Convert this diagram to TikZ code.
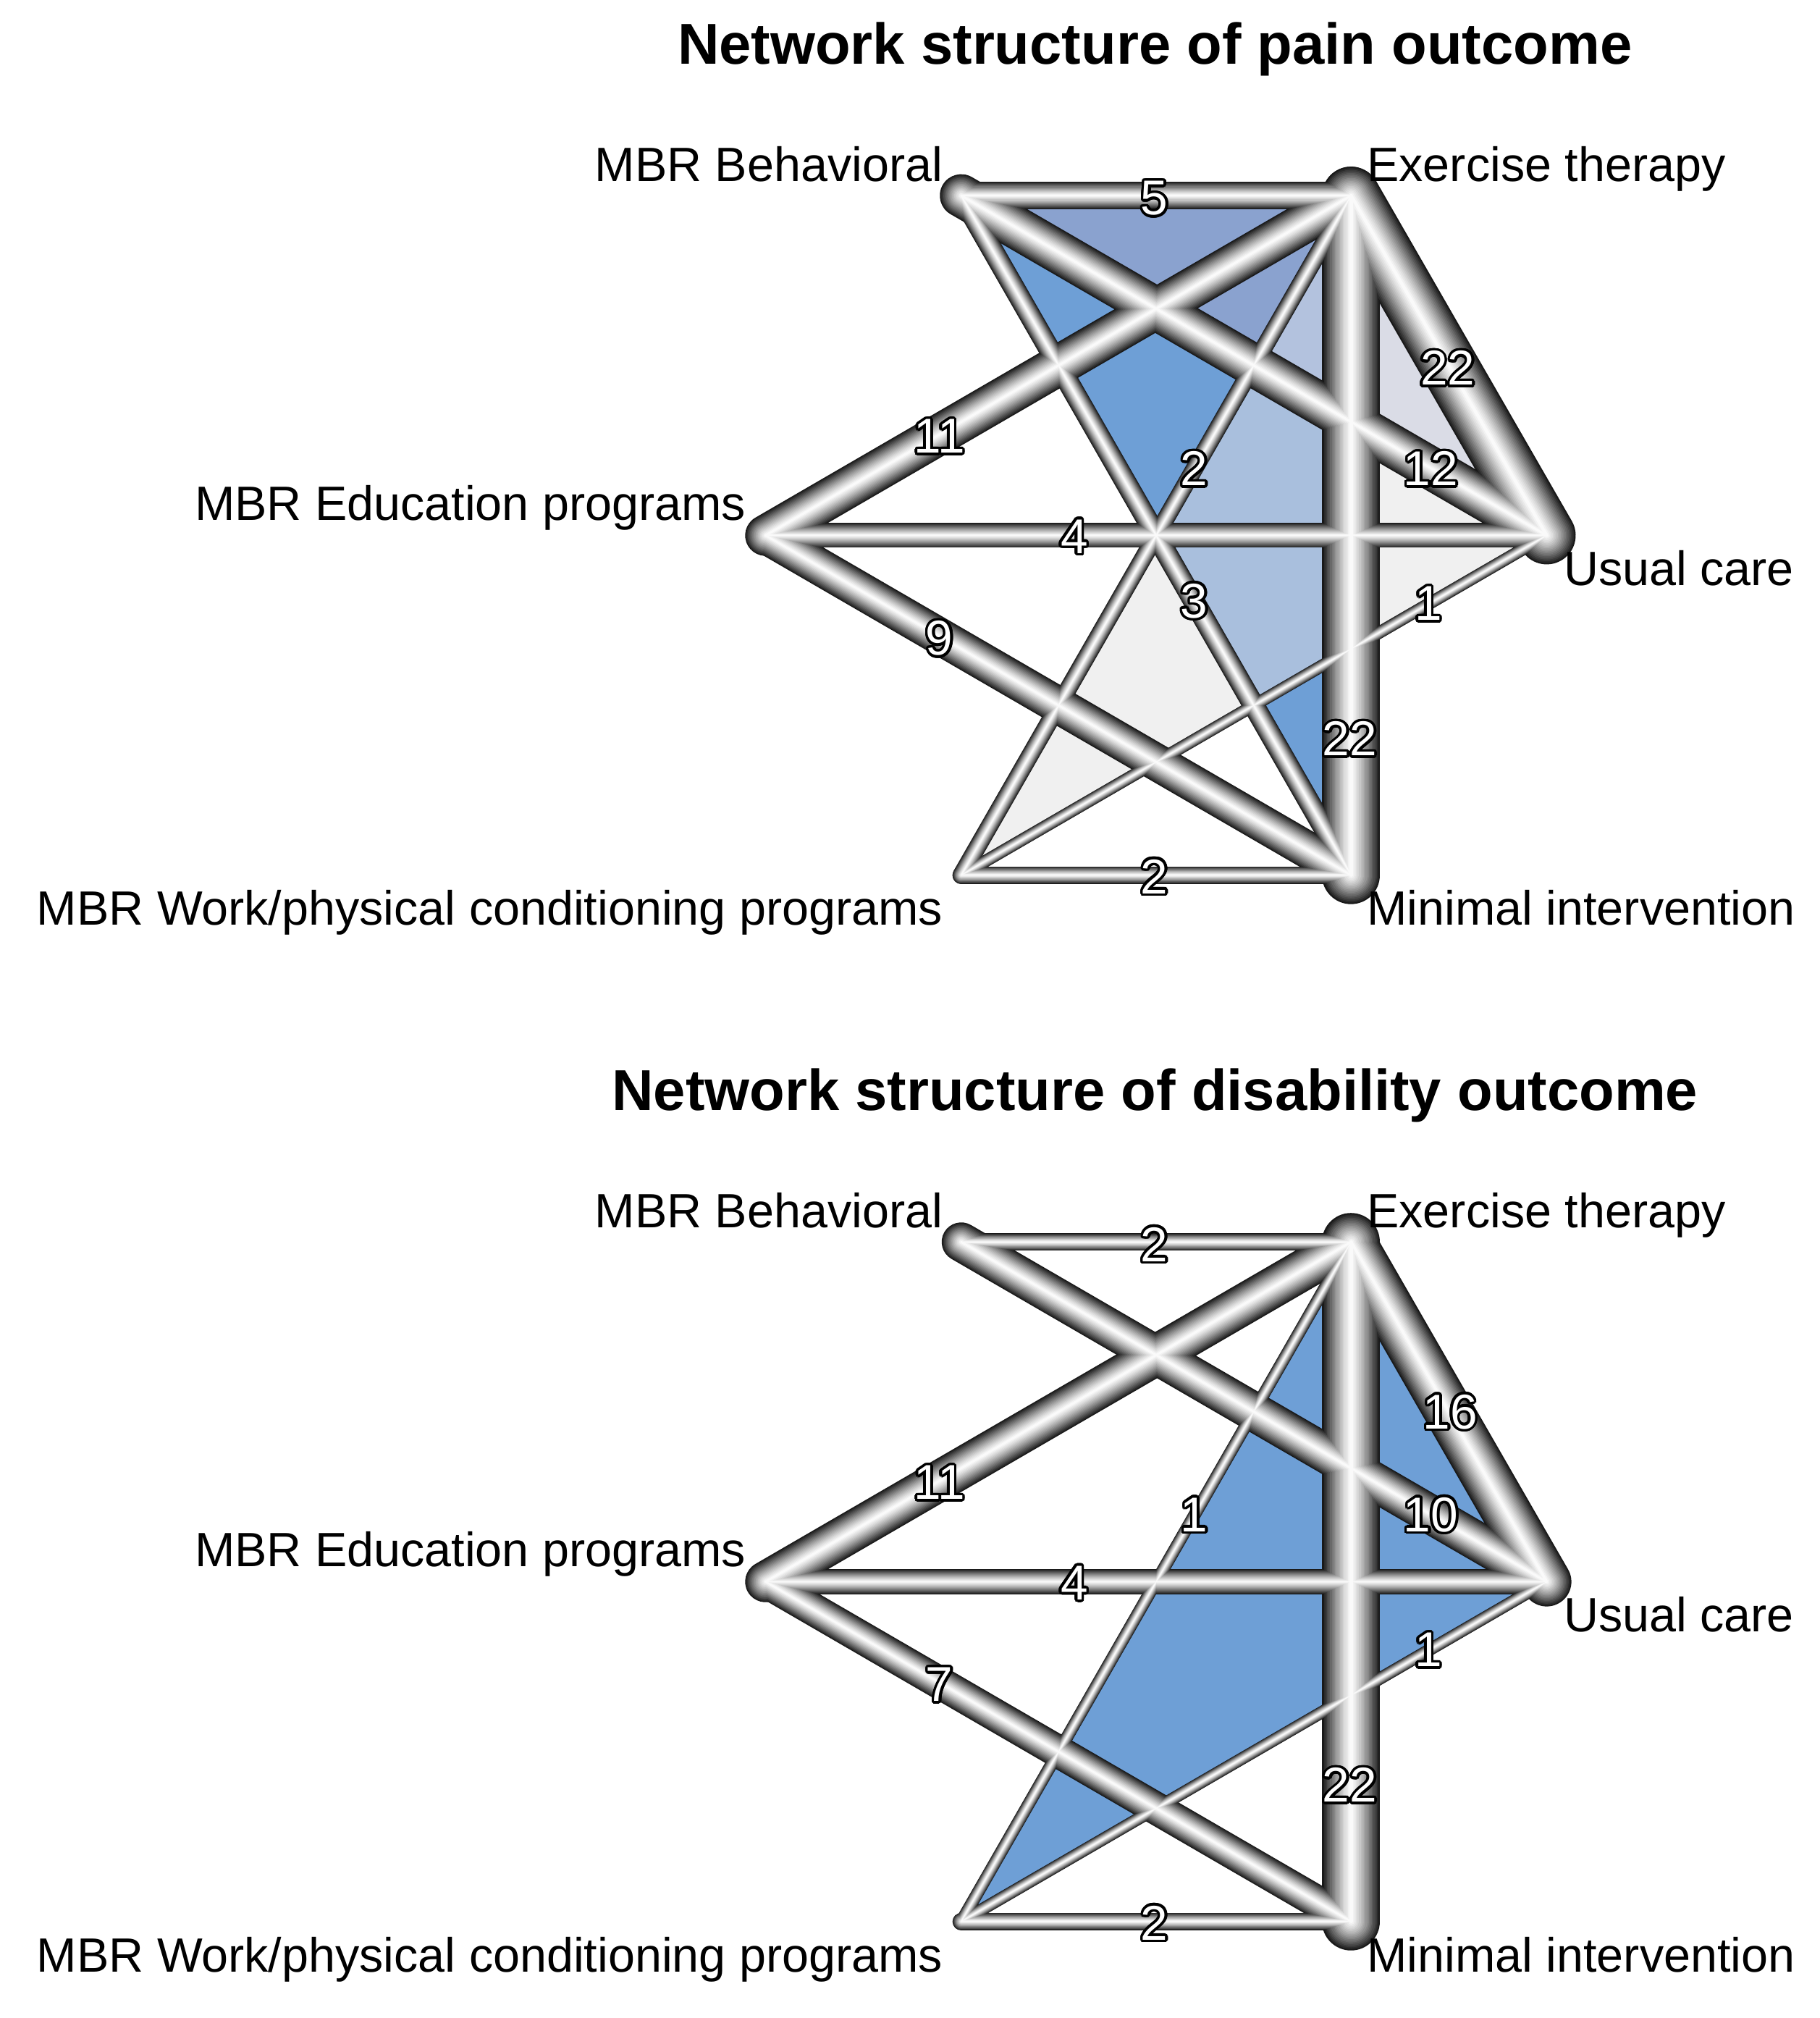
\documentclass[tikz,border=0pt]{standalone}
\usepackage{fontspec}
\setmainfont{Liberation Sans}
\usepackage{contour}
\contourlength{1pt}
\contournumber{24}
\definecolor{cBlue}{HTML}{6E9FD6}
\definecolor{cGrey}{HTML}{F0F0F0}
\definecolor{cBG}{HTML}{A9BFDD}
\definecolor{cLG}{HTML}{DADCE6}
\definecolor{cLav}{HTML}{8AA2CF}
\definecolor{cTri}{HTML}{B3C2DE}
\tikzset{
  lab/.style={font=\fontsize{18.7}{22}\selectfont, inner sep=0pt},
  num/.style={font=\fontsize{19}{21}\selectfont, text=white, inner sep=0pt},
  ttl/.style={font=\fontsize{22.4}{26}\selectfont\bfseries, inner sep=0pt},
}
\begin{document}
\begin{tikzpicture}[x=0.5pt,y=-0.5pt]
\useasboundingbox (0,0) rectangle (1414,1568);
% nodes of the pain network
\coordinate (B1) at (747,152);
\coordinate (E1) at (1050,152);
\coordinate (U1) at (1202,416);
\coordinate (M1) at (1050,680);
\coordinate (W1) at (747,680);
\coordinate (D1) at (595,416);
% nodes of the disability network
\coordinate (B2) at (747,965);
\coordinate (E2) at (1050,965);
\coordinate (U2) at (1202,1229);
\coordinate (M2) at (1050,1493);
\coordinate (W2) at (747,1493);
\coordinate (D2) at (595,1229);

% multi-arm polygons, pain network
\fill[cBlue] (B1) -- (E1) -- (M1) -- cycle;
\fill[cGrey] (E1) -- (U1) -- (W1) -- cycle;
\begin{scope}
  \clip (E1) -- (U1) -- (W1) -- cycle;
  \fill[cBG] (B1) -- (E1) -- (M1) -- cycle;
\end{scope}
\begin{scope}
  \clip (B1) -- (E1) -- (U1) -- cycle;
  \fill[cLG] (E1) -- (U1) -- (W1) -- cycle;
  \fill[cLav] (B1) -- (E1) -- (M1) -- cycle;
  \clip (B1) -- (E1) -- (M1) -- cycle;
  \fill[cTri] (E1) -- (U1) -- (W1) -- cycle;
\end{scope}
% multi-arm polygon, disability network
\fill[cBlue] (E2) -- (U2) -- (W2) -- cycle;

% shaded tube edges, drawn layer by layer
\foreach \k in {0,...,17}{
  \pgfmathsetmacro\layT{1-\k/18}
  \pgfmathsetmacro\layG{100*(1-0.9*(\layT)^1.3)}
  \foreach \a/\b/\n in {B1/E1/5, E1/U1/22, E1/M1/22, E1/D1/11, B1/U1/12, E1/W1/2, B1/M1/3, D1/U1/4, D1/M1/9, U1/W1/1, W1/M1/2,
                        B2/E2/2, E2/U2/16, E2/M2/22, E2/D2/11, B2/U2/10, E2/W2/1, D2/U2/4, D2/M2/7, U2/W2/1, W2/M2/2}{
    \draw[line cap=round, line width=4.8pt*sqrt(\n)*\layT, draw=white!\layG!black] (\a) -- (\b);
  }
}

% titles
\node[ttl, anchor=base] (t1) at (897.5,50) {Network structure of pain outcome};
\node[ttl, anchor=base] (t2) at (897.5,863) {Network structure of disability outcome};

% treatment labels, pain
\node[lab, anchor=base east] (lB1) at (733,141) {MBR Behavioral};
\node[lab, anchor=base west] (lE1) at (1062,141) {Exercise therapy};
\node[lab, anchor=base west] (lU1) at (1215,455) {Usual care};
\node[lab, anchor=base west] (lM1) at (1062,719) {Minimal intervention};
\node[lab, anchor=base east] (lW1) at (733,719) {MBR Work/physical conditioning programs};
\node[lab, anchor=base east] (lD1) at (580,404) {MBR Education programs};
% treatment labels, disability
\node[lab, anchor=base east] (lB2) at (733,954) {MBR Behavioral};
\node[lab, anchor=base west] (lE2) at (1062,954) {Exercise therapy};
\node[lab, anchor=base west] (lU2) at (1215,1268) {Usual care};
\node[lab, anchor=base west] (lM2) at (1062,1532) {Minimal intervention};
\node[lab, anchor=base east] (lW2) at (733,1532) {MBR Work/physical conditioning programs};
\node[lab, anchor=base east] (lD2) at (580,1217) {MBR Education programs};

% study counts, pain
\node[num] (n1a) at (897,155) {\contour{black}{5}};
\node[num] (n1b) at (1125,287) {\contour{black}{22}};
\node[num] (n1c) at (730,340) {\contour{black}{11}};
\node[num] (n1d) at (1112,365) {\contour{black}{12}};
\node[num] (n1e) at (928,365) {\contour{black}{2}};
\node[num] (n1f) at (835,418) {\contour{black}{4}};
\node[num] (n1g) at (928,468) {\contour{black}{3}};
\node[num] (n1h) at (1110,470) {\contour{black}{1}};
\node[num] (n1i) at (730,497) {\contour{black}{9}};
\node[num] (n1j) at (1049,575) {\contour{black}{22}};
\node[num] (n1k) at (897,682) {\contour{black}{2}};
% study counts, disability
\node[num] (n2a) at (897,968) {\contour{black}{2}};
\node[num] (n2b) at (1127,1098) {\contour{black}{16}};
\node[num] (n2c) at (730,1153) {\contour{black}{11}};
\node[num] (n2d) at (1112,1178) {\contour{black}{10}};
\node[num] (n2e) at (928,1178) {\contour{black}{1}};
\node[num] (n2f) at (835,1231) {\contour{black}{4}};
\node[num] (n2g) at (1110,1283) {\contour{black}{1}};
\node[num] (n2h) at (730,1310) {\contour{black}{7}};
\node[num] (n2i) at (1049,1388) {\contour{black}{22}};
\node[num] (n2j) at (897,1495) {\contour{black}{2}};
\end{tikzpicture}
\end{document}
